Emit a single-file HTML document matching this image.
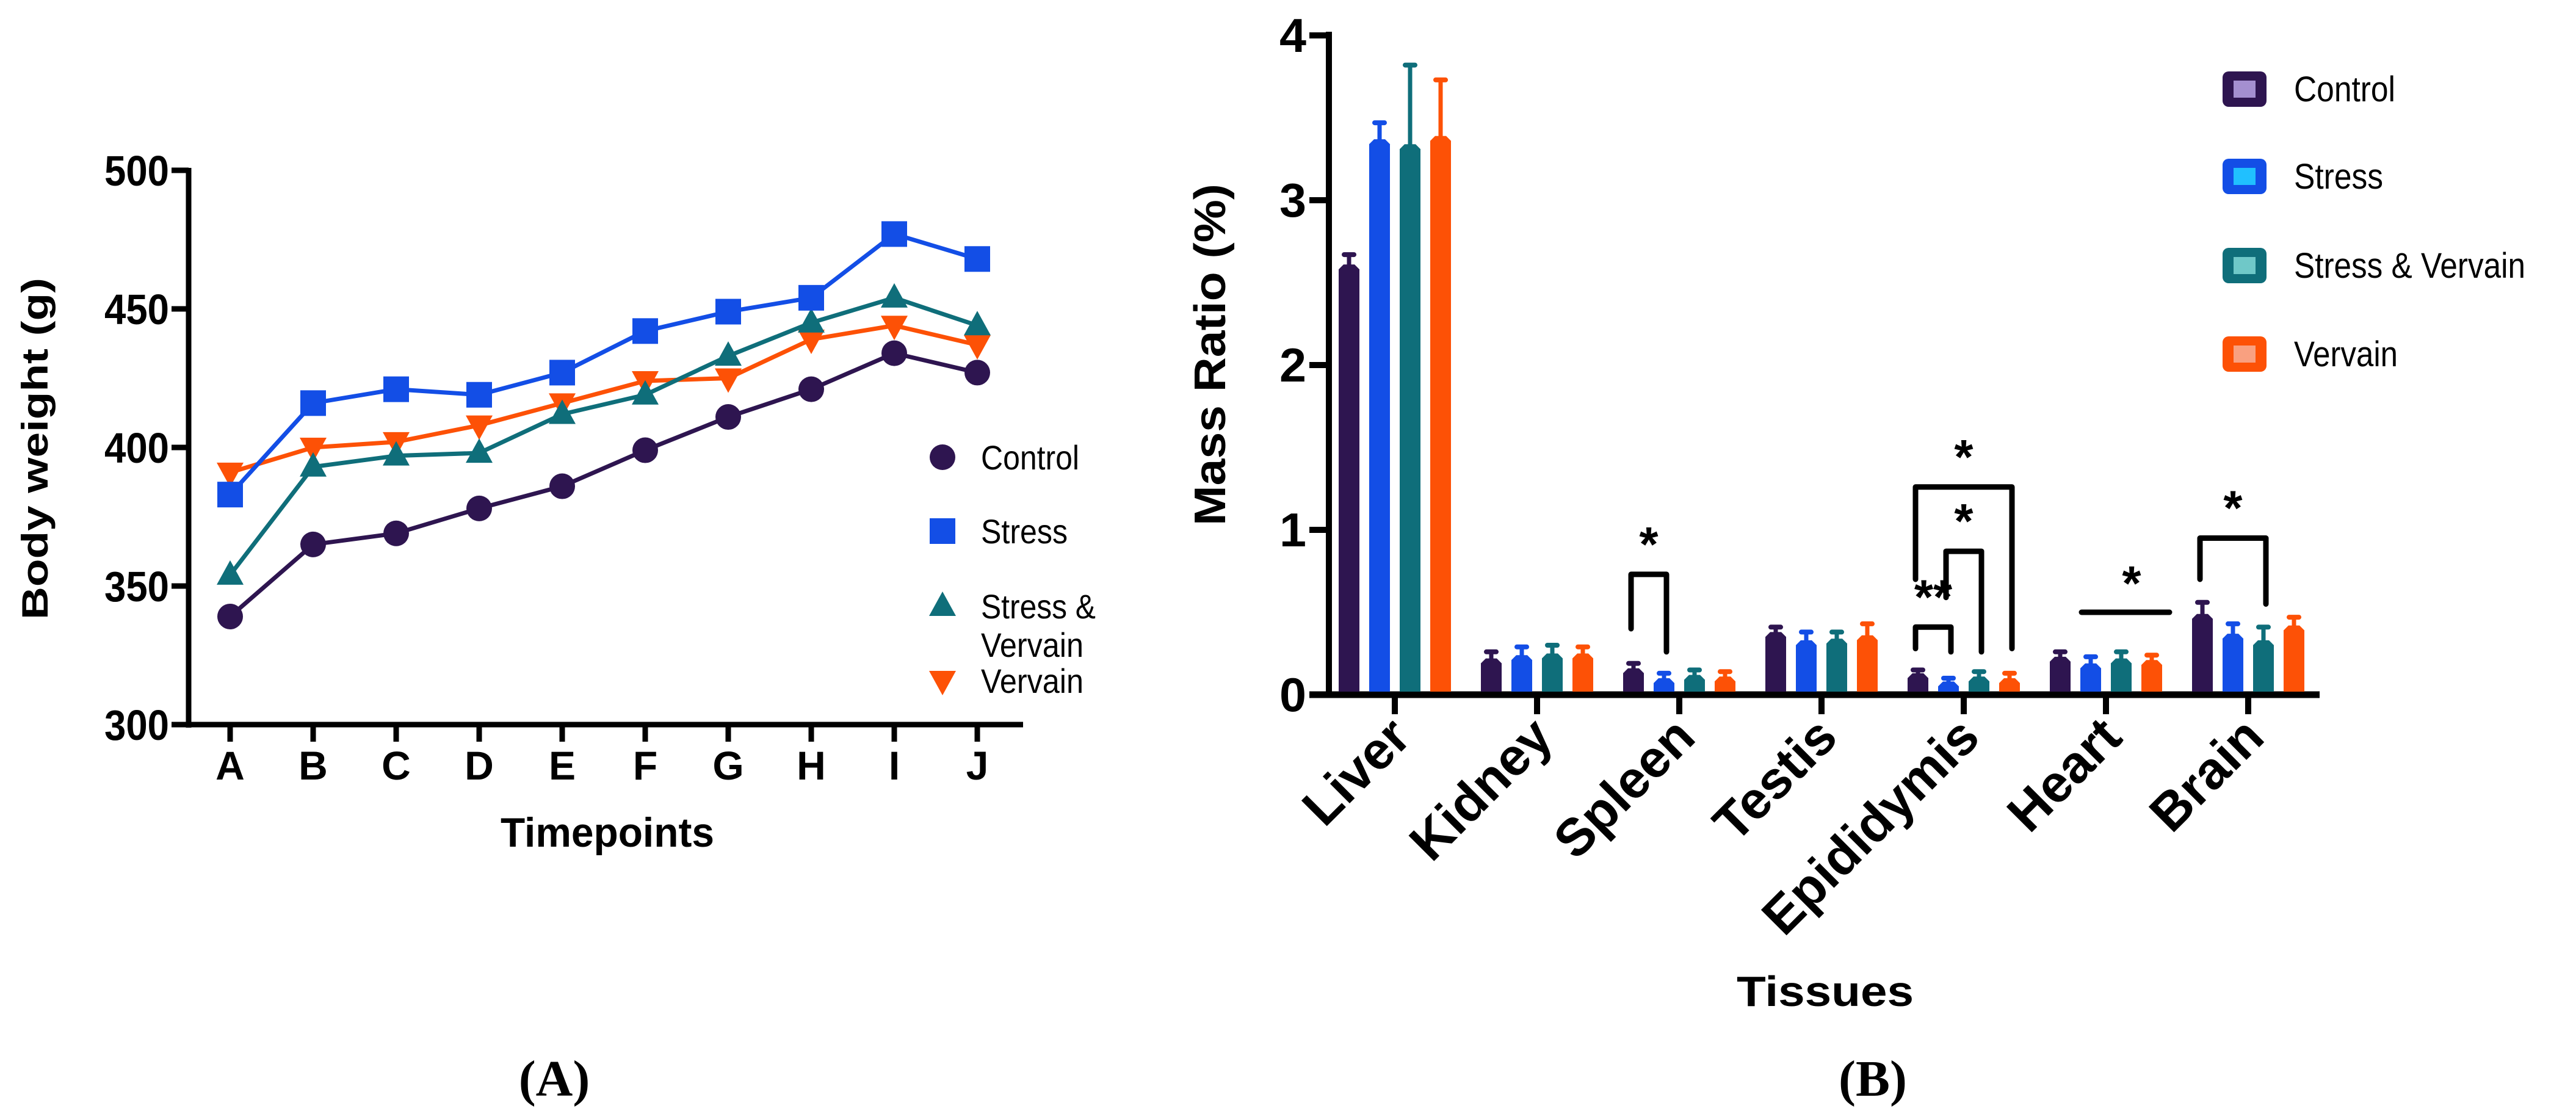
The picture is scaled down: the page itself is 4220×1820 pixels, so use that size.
<!DOCTYPE html>
<html><head><meta charset="utf-8"><style>
html,body{margin:0;padding:0;background:#fff;}
svg{display:block;}
text{font-family:"Liberation Sans",sans-serif;}
text.serif{font-family:"Liberation Serif",serif;}
</style></head><body>
<svg id="fig" width="4220" height="1820" viewBox="0 0 4220 1820" xmlns="http://www.w3.org/2000/svg">
<g id="chartA"></g>
<g id="chartB"></g>
</svg>
<script>
// ---- Chart A data ----
const timepoints = ["A","B","C","D","E","F","G","H","I","J"];
const controlWeights = [339,365,369,378,386,399,411,421,434,427];
const stressWeights = [383,416,421,419,427,442,449,454,477,468];
const stressVervainWeights = [354,393,397,398,412,419,433,445,454,444];
const vervainWeights = [391,400,402,408,416,424,425,439,444,437];
const weightTicks = [300,350,400,450,500];

// ---- Chart B data ----
const tissues = ["Liver","Kidney","Spleen","Testis","Epididymis","Heart","Brain"];
const controlRatio = [2.61,0.22,0.16,0.38,0.13,0.23,0.49];
const controlErr = [0.06,0.04,0.03,0.03,0.02,0.03,0.07];
const stressRatio = [3.37,0.24,0.10,0.33,0.08,0.19,0.37];
const stressErr = [0.10,0.05,0.03,0.05,0.02,0.04,0.06];
const svRatio = [3.34,0.25,0.12,0.34,0.11,0.22,0.33];
const svErr = [0.48,0.05,0.03,0.04,0.03,0.04,0.08];
const vervainRatio = [3.39,0.25,0.11,0.36,0.10,0.21,0.42];
const vervainErr = [0.34,0.04,0.03,0.07,0.03,0.03,0.05];
const ratioTicks = [0,1,2,3,4];
// significance comparisons
const sigGroup = [2,4,4,4,6];
const sigFrom = [0,0,1,0,0];
const sigTo = [1,1,2,3,2];
const sigTop = [0.73,0.41,0.87,1.26,0.95];
const sigLeftEnd = [0.40,0.28,0.59,0.70,0.70];
const sigRightEnd = [0.26,0.26,0.26,0.28,0.55];
const sigLabel = ["*","**","*","*","*"];
const heartLineValue = 0.50;

const NS="http://www.w3.org/2000/svg";
function mk(tag,attrs,parent,txt){const e=document.createElementNS(NS,tag);for(const k in attrs)e.setAttribute(k,attrs[k]);if(txt!==undefined)e.textContent=txt;parent.appendChild(e);return e;}

const colors=["#2e1550","#134ee6","#0f6e7a","#fd5106"];
const lightColors=["#a48fd0","#20c0ff","#6fc8c8","#f9a080"];

// ===== Chart A =====
const A=document.getElementById('chartA');
const xA=i=>377+136*i;
const yA=v=>1187-(v-300)*227/50;
let e;
e=mk('line',{x1:309,y1:275,x2:309,y2:1192,stroke:'#000','stroke-width':9},A);

e=mk('line',{x1:305,y1:1187,x2:1676,y2:1187,stroke:'#000','stroke-width':9},A);

weightTicks.forEach(t=>{
  e=mk('line',{x1:281,y1:yA(t),x2:309,y2:yA(t),stroke:'#000','stroke-width':9},A);
  
  e=mk('text',{x:277,y:yA(t)+25,'text-anchor':'end','font-size':70,'font-weight':'bold',textLength:106,lengthAdjust:'spacingAndGlyphs'},A,String(t));
  
});
timepoints.forEach((t,i)=>{
  e=mk('line',{x1:xA(i),y1:1187,x2:xA(i),y2:1215,stroke:'#000','stroke-width':9},A);
  
  e=mk('text',{x:xA(i),y:1277,'text-anchor':'middle','font-size':66,'font-weight':'bold'},A,t);
  
});
e=mk('text',{x:0,y:0,'text-anchor':'middle','font-size':60,'font-weight':'bold',textLength:560,lengthAdjust:'spacingAndGlyphs',transform:'translate(78,735) rotate(-90)'},A,'Body weight (g)');

e=mk('text',{x:995,y:1387,'text-anchor':'middle','font-size':68,'font-weight':'bold',textLength:350,lengthAdjust:'spacingAndGlyphs'},A,'Timepoints');

e=mk('text',{x:908,y:1795,'text-anchor':'middle','font-size':84,'font-weight':'bold','class':'serif'},A,'(A)');


function marker(parent,type,cx,cy,color){
  let m;
  if(type===0) m=mk('circle',{cx,cy,r:21,fill:color},parent);
  else if(type===1) m=mk('rect',{x:cx-21,y:cy-21,width:42,height:42,fill:color},parent);
  else if(type===2) m=mk('polygon',{points:`${cx},${cy-24} ${cx+22},${cy+16} ${cx-22},${cy+16}`,fill:color},parent);
  else m=mk('polygon',{points:`${cx},${cy+24} ${cx+22},${cy-16} ${cx-22},${cy-16}`,fill:color},parent);
  return m;
}
const seriesA=[controlWeights,stressWeights,stressVervainWeights,vervainWeights];
const seriesNames=['control','stress','stress-vervain','vervain'];
[3,2,1,0].forEach(s=>{
  const g=mk('g',{},A);
  
  const pts=seriesA[s].map((v,i)=>xA(i)+','+yA(v)).join(' ');
  e=mk('polyline',{points:pts,fill:'none',stroke:colors[s],'stroke-width':7},g);
  
  seriesA[s].forEach((v,i)=>{
    e=marker(g,s,xA(i),yA(v),colors[s]);
    
  });
});
// legend A
const legA=mk('g',{},A);

const legAy=[749,870,993,1115];
const legALab=['Control','Stress','Stress &','Vervain'];
const legAw=[161,142,188,168];
legAy.forEach((y,s)=>{
  e=marker(legA,s,1544,y,colors[s]);
  
  e=mk('text',{x:1607,y:y+20,'font-size':56,textLength:legAw[s],lengthAdjust:'spacingAndGlyphs'},legA,legALab[s]);
  
});
e=mk('text',{x:1607,y:1076,'font-size':56,textLength:168,lengthAdjust:'spacingAndGlyphs'},legA,'Vervain');


// ===== Chart B =====
const B=document.getElementById('chartB');
const yB=v=>1138-270*v;
const cB=g=>2285+233*g;
const barX=(g,s)=>cB(g)+(s-1.5)*50;
e=mk('line',{x1:2177,y1:52,x2:2177,y2:1143,stroke:'#000','stroke-width':10},B);

e=mk('line',{x1:2145,y1:1138,x2:3800,y2:1138,stroke:'#000','stroke-width':11},B);

ratioTicks.forEach(t=>{
  e=mk('line',{x1:2145,y1:yB(t),x2:2177,y2:yB(t),stroke:'#000','stroke-width':10},B);
  
  e=mk('text',{x:2140,y:yB(t)+27,'text-anchor':'end','font-size':78,'font-weight':'bold',textLength:44,lengthAdjust:'spacingAndGlyphs'},B,String(t));
  
});
const seriesB=[controlRatio,stressRatio,svRatio,vervainRatio];
const errB=[controlErr,stressErr,svErr,vervainErr];
tissues.forEach((t,g)=>{
  e=mk('line',{x1:cB(g),y1:1138,x2:cB(g),y2:1170,stroke:'#000','stroke-width':10},B);
  
  e=mk('text',{x:0,y:0,'text-anchor':'end','font-size':86,'font-weight':'bold',transform:`translate(${cB(g)+30},${1212}) rotate(-45)`},B,t);
  
  for(let s=0;s<4;s++){
    const cx=barX(g,s), x0=cx-17, x1=cx+17, top=yB(seriesB[s][g]), base=1133, ch=8;
    const eg=yB(seriesB[s][g]+errB[s][g]);
    e=mk('line',{x1:cx,y1:top+2,x2:cx,y2:eg,stroke:colors[s],'stroke-width':7},B);
    
    e=mk('rect',{x:cx-12,y:eg-4,width:24,height:8,rx:4,fill:colors[s]},B);
    
    e=mk('polygon',{points:`${x0},${base} ${x0},${top+ch} ${x0+ch},${top} ${x1-ch},${top} ${x1},${top+ch} ${x1},${base}`,fill:colors[s]},B);
    
  }
});
// significance brackets
sigGroup.forEach((g,k)=>{
  const xl=barX(g,sigFrom[k])-4, xr=barX(g,sigTo[k])+4;
  e=mk('polyline',{points:`${xl},${yB(sigLeftEnd[k])} ${xl},${yB(sigTop[k])} ${xr},${yB(sigTop[k])} ${xr},${yB(sigRightEnd[k])}`,fill:'none',stroke:'#000','stroke-width':9,'stroke-linejoin':'round','stroke-linecap':'round'},B);
  
  e=mk('text',{x:(xl+xr)/2,y:yB(sigTop[k])-22,'text-anchor':'middle','font-size':80,'font-weight':'bold'},B,sigLabel[k]);
  
});
e=mk('line',{x1:3410,y1:yB(heartLineValue),x2:3554,y2:yB(heartLineValue),stroke:'#000','stroke-width':9,'stroke-linecap':'round'},B);

e=mk('text',{x:3492,y:yB(heartLineValue)-20,'text-anchor':'middle','font-size':80,'font-weight':'bold'},B,'*');


e=mk('text',{x:0,y:0,'text-anchor':'middle','font-size':72,'font-weight':'bold',textLength:560,lengthAdjust:'spacingAndGlyphs',transform:'translate(2007,581) rotate(-90)'},B,'Mass Ratio (%)');

e=mk('text',{x:2990,y:1648,'text-anchor':'middle','font-size':70,'font-weight':'bold',textLength:290,lengthAdjust:'spacingAndGlyphs'},B,'Tissues');

e=mk('text',{x:3068,y:1795,'text-anchor':'middle','font-size':84,'font-weight':'bold','class':'serif'},B,'(B)');

// legend B
const legB=mk('g',{},B);

const legBy=[146,289,435,580];
const legBLab=['Control','Stress','Stress & Vervain','Vervain'];
const legBw=[166,146,379,170];
legBy.forEach((y,s)=>{
  e=mk('rect',{x:3641,y:y-29,width:72,height:58,rx:10,fill:colors[s]},legB);
  
  e=mk('rect',{x:3659,y:y-14,width:36,height:28,fill:lightColors[s]},legB);
  
  e=mk('text',{x:3758,y:y+20,'font-size':58,textLength:legBw[s],lengthAdjust:'spacingAndGlyphs'},legB,legBLab[s]);
  
});
</script>
</body></html>
